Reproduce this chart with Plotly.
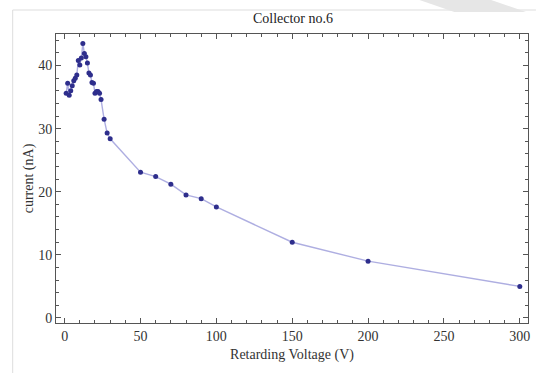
import plotly.graph_objects as go

voltage = [1, 2, 3, 4, 5, 6, 7, 8, 9, 10, 11, 12, 13, 14, 15, 16, 17, 18, 19, 20,
           21, 22, 23, 24, 26, 28, 30, 50, 60, 70, 80, 90, 100, 150, 200, 300]
current = [35.6, 37.2, 35.3, 36.0, 36.8, 37.6, 38.0, 38.5, 40.8, 40.1, 41.2, 43.5,
           41.9, 41.4, 40.4, 38.8, 38.5, 37.3, 37.2, 35.6, 35.9, 35.9, 35.6, 34.6,
           31.5, 29.3, 28.4, 23.1, 22.4, 21.2, 19.5, 18.9, 17.6, 12.0, 9.0, 5.0]

title_text = "Collector no.6"
x_title = "Retarding Voltage (V)"
y_title = "current (nA)"

W, H = 538, 373
L, R, T, B = 56, 8, 34, 50
pw, ph = W - L - R, H - T - B


def px(x):
    return (x - L) / pw


def py(y):
    return (H - B - y) / ph


font_family = "Liberation Serif, Times New Roman, serif"

fig = go.Figure()
fig.add_trace(go.Scatter(
    x=voltage, y=current, mode="lines",
    line=dict(color="rgba(120,120,205,0.6)", width=1.4),
    hoverinfo="skip", showlegend=False))
fig.add_trace(go.Scatter(
    x=voltage, y=current, mode="markers",
    marker=dict(color="#2e2e8c", size=5),
    showlegend=False))

axis_common = dict(
    showgrid=False, zeroline=False, showline=True, linecolor="#555555",
    linewidth=1, mirror="allticks", ticks="inside", ticklen=5,
    tickcolor="#555555", tickwidth=1,
    tickfont=dict(family=font_family, size=14, color="#333333"),
)

fig.update_layout(
    width=W, height=H,
    margin=dict(l=L, r=R, t=T, b=B),
    paper_bgcolor="white", plot_bgcolor="white",
    title=dict(text=title_text, x=(L + pw / 2) / W, xanchor="center",
               y=1 - 18 / H, yanchor="middle",
               font=dict(family=font_family, size=14, color="#222222")),
    xaxis=dict(range=[-5.7, 305.4], tick0=0, dtick=50,
               minor=dict(ticks="inside", dtick=10, ticklen=3,
                          tickcolor="#555555"),
               title=dict(text=x_title, standoff=6,
                          font=dict(family=font_family, size=14, color="#333333")),
               **axis_common),
    yaxis=dict(range=[-0.8, 45.0], tick0=0, dtick=10,
               minor=dict(ticks="inside", dtick=2, ticklen=3,
                          tickcolor="#555555"),
               title=dict(text=y_title, standoff=1,
                          font=dict(family=font_family, size=14, color="#333333")),
               **axis_common),
    shapes=[
        dict(type="line", xref="paper", yref="paper",
             x0=px(12.5), x1=px(12.5), y0=py(10), y1=py(H),
             line=dict(color="#dddddd", width=1), layer="below"),
        dict(type="line", xref="paper", yref="paper",
             x0=px(12.5), x1=px(W), y0=py(10), y1=py(10),
             line=dict(color="#dddddd", width=1), layer="below"),
        dict(type="path", xref="paper", yref="paper",
             path=f"M {px(421)} {py(0)} L {px(493)} {py(0)} L {px(528)} {py(12)} L {px(456)} {py(12)} Z",
             fillcolor="#e6e6e6", line=dict(width=0), layer="below"),
    ],
)

fig.write_html("out.html")
